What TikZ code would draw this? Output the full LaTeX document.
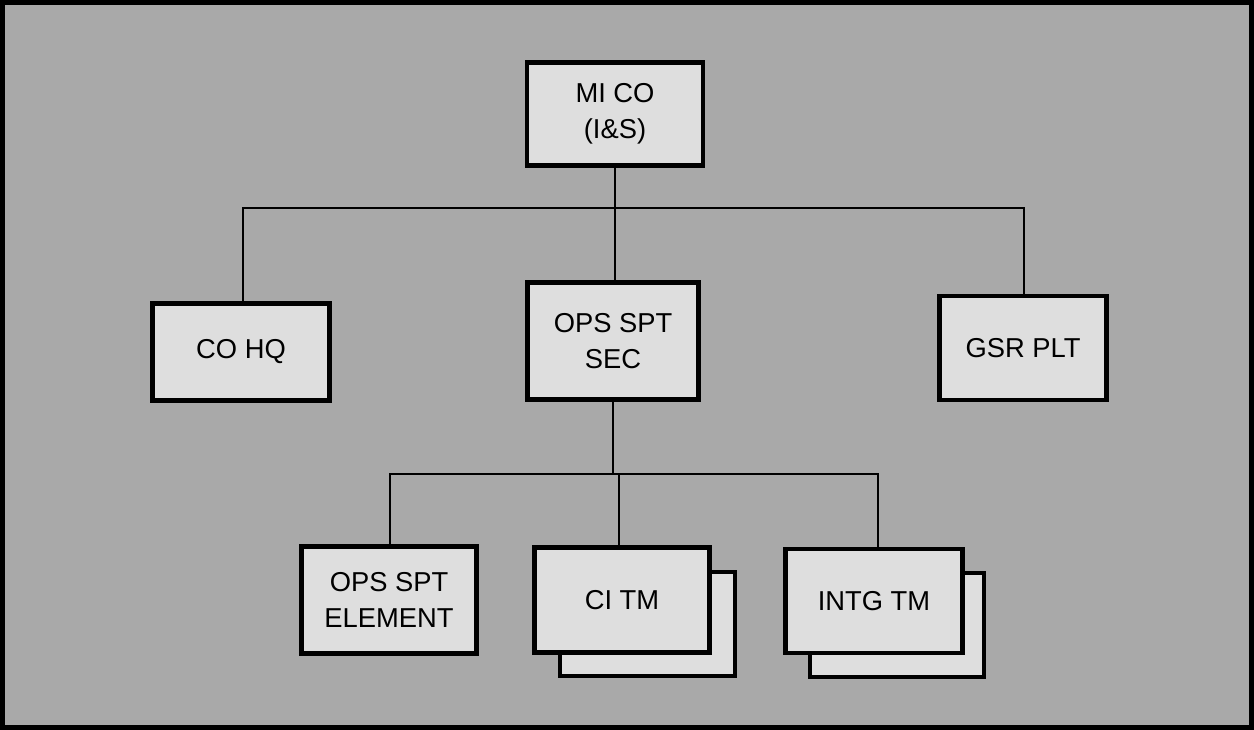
\documentclass[tikz,border=0pt]{standalone}
\usepackage{fontspec}
\setmainfont{Liberation Sans}
\begin{document}
\begin{tikzpicture}[x=0.75pt,y=-0.75pt,
  unit/.style={draw=black,line width=3.5pt,fill=boxfill,align=center,inner sep=0pt,
    font=\fontsize{20.5}{27}\selectfont},
  shadowbox/.style={draw=black,line width=3.5pt,fill=boxfill},
  link/.style={draw=black,line width=1pt}]
\definecolor{bgfill}{HTML}{A9A9A9}
\definecolor{boxfill}{HTML}{DEDEDE}
\useasboundingbox (0,0) rectangle (1254,730);
\fill[bgfill] (0,0) rectangle (1254,730);
\draw[black,line width=4pt] (2,2) rectangle (1252,728);
% shadow copies
\draw[shadowbox] (560,572) rectangle (735,676);
\draw[shadowbox] (810,573) rectangle (984,677);
% nodes
\node[unit,minimum width=132pt,minimum height=77pt] (mico) at (615,114) {MI CO\\(I\&S)};
\node[unit,minimum width=133pt,minimum height=73pt] (cohq) at (241,352) {CO HQ};
\node[unit,minimum width=128pt,minimum height=88pt] (sec) at (613,341) {OPS SPT\\SEC};
\node[unit,minimum width=125pt,minimum height=78pt] (gsr) at (1023,348) {GSR PLT};
\node[unit,minimum width=131pt,minimum height=80pt] (elem) at (389,600) {OPS SPT\\ELEMENT};
\node[unit,minimum width=131pt,minimum height=79pt] (ci) at (622,600) {CI TM};
\node[unit,minimum width=133pt,minimum height=78pt] (intg) at (874,601) {INTG TM};
% connectors
\coordinate (bar1) at (615,208);
\coordinate (bar2) at (615,474);
\draw[link] (mico.south) -- (bar1);
\draw[link] (cohq.north -| 243,0) |- (bar1) -| (gsr.north -| 1024,0);
\draw[link] (bar1) -- (sec.north -| bar1);
\draw[link] (sec.south) -- (sec.south |- bar2);
\draw[link] (elem.north -| 390,0) |- (bar2) -| (intg.north -| 878,0);
\draw[link] (ci.north -| 619,0) -- (619,474);
\end{tikzpicture}
\end{document}
